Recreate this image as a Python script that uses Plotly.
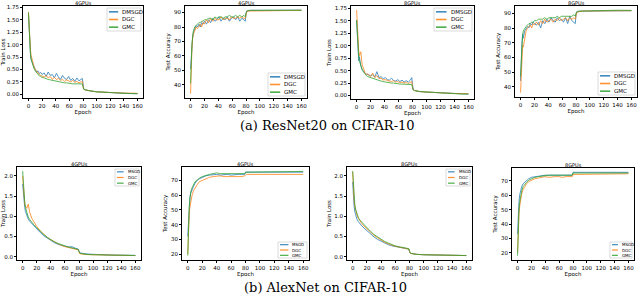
import plotly.graph_objects as go

# ---------------- data ----------------
E_a = [0,1,2,3,4,6,8,10,12,14,16,18,20,
       23,26,29,32,35,38,41,44,47,50,53,56,59,62,65,68,71,74,77,
       79,80,81,83,86,90,100,110,120,130,140,150,160]
E_b = [0,1,2,3,4,6,8,10,13,16,20,25,30,35,40,45,50,55,60,65,70,75,79,80,81,83,86,90,
       100,110,120,130,140,150,160]

names_a = ["DMSGD", "DGC", "GMC"]
names_b = ["MSGD", "DGC", "GMC"]

# ResNet20 train loss, 4 GPUs
a1_dmsgd = [1.62,1.25,0.95,0.80,0.70,0.62,0.55,0.50,0.45,0.47,0.42,0.44,0.40,
            0.43,0.36,0.45,0.38,0.40,0.33,0.42,0.35,0.30,0.38,0.32,0.30,0.36,0.28,0.32,0.26,0.33,0.27,0.30,
            0.32,0.22,0.12,0.09,0.08,0.07,0.05,0.04,0.03,0.025,0.02,0.015,0.012]
a1_dgc   = [1.66,1.30,1.05,0.88,0.78,0.66,0.56,0.50,0.46,0.42,0.40,0.38,0.37,
            0.35,0.38,0.33,0.36,0.30,0.34,0.30,0.32,0.28,0.30,0.26,0.29,0.27,0.25,0.28,0.24,0.26,0.23,0.25,
            0.26,0.18,0.11,0.09,0.08,0.07,0.05,0.04,0.035,0.03,0.025,0.02,0.02]
a1_gmc   = [1.65,1.20,0.95,0.80,0.70,0.60,0.52,0.47,0.43,0.40,0.37,0.36,0.34,
            0.33,0.31,0.30,0.29,0.28,0.27,0.26,0.26,0.25,0.24,0.23,0.23,0.22,0.22,0.21,0.21,0.21,0.20,0.20,
            0.21,0.15,0.10,0.09,0.08,0.07,0.05,0.04,0.03,0.025,0.02,0.015,0.012]

# ResNet20 test accuracy, 4 GPUs
a2_dmsgd = [51,60,68,73,76,79,81,80,82,80,83,82,84,
            82,85,83,86,84,85,87,84,86,85,87,84,86,87,85,87,84,86,85,
            84,89,91,91,91.5,91.5,91.5,91.5,91.3,91.5,91.5,91.6,91.6]
a2_dgc   = [34,55,65,72,75,77,80,79,81,82,80,83,82,
            85,83,86,84,86,85,85,87,85,86,86,85,87,86,86,87,86,87,86,
            86,89,90.5,91,91,91.5,91.4,91.5,91.2,91.4,91.5,91.5,91.5]
a2_gmc   = [41,58,68,73,77,80,81,82,83,83,84,84,85,
            85,86,86,85,87,86,87,87,86,87,87,88,87,87,88,87,88,87,88,
            87,89.5,91,91.5,91.5,91.5,91.6,91.6,91.4,91.6,91.6,91.7,91.6]

# ResNet20 train loss, 8 GPUs
a3_dmsgd = [1.52,1.15,0.95,0.70,0.78,0.60,0.52,0.48,0.45,0.43,0.42,0.40,0.40,
            0.42,0.37,0.48,0.36,0.38,0.34,0.36,0.32,0.31,0.35,0.30,0.29,0.32,0.28,0.31,0.27,0.30,0.27,0.31,
            0.36,0.22,0.12,0.10,0.09,0.08,0.07,0.06,0.05,0.045,0.04,0.035,0.03]
a3_dgc   = [1.72,1.40,1.05,0.90,0.80,0.88,0.62,0.52,0.46,0.42,0.44,0.40,0.38,
            0.45,0.36,0.40,0.34,0.35,0.31,0.32,0.30,0.29,0.28,0.30,0.27,0.28,0.26,0.27,0.25,0.27,0.24,0.26,
            0.28,0.18,0.12,0.10,0.09,0.08,0.07,0.06,0.05,0.045,0.04,0.04,0.035]
a3_gmc   = [1.52,1.20,0.95,0.80,0.70,0.60,0.52,0.47,0.43,0.40,0.38,0.37,0.35,
            0.34,0.33,0.31,0.30,0.29,0.28,0.27,0.27,0.26,0.25,0.25,0.24,0.24,0.23,0.23,0.23,0.22,0.22,0.22,
            0.22,0.16,0.11,0.10,0.09,0.08,0.07,0.06,0.05,0.04,0.035,0.03,0.03]

# ResNet20 test accuracy, 8 GPUs
a4_dmsgd = [44,62,70,76,73,78,80,81,80,83,82,84,83,
            82,84,80,85,83,86,84,87,85,84,87,85,86,84,87,83,88,85,84,
            83,89,91,91,91.5,91.5,91.6,91.8,91.8,92,92,92,91.8]
a4_dgc   = [36,52,62,68,67,73,78,80,81,82,80,83,82,
            84,82,85,83,86,84,85,86,84,86,85,87,85,86,87,85,87,86,87,
            86,89,90.5,91,91,91.5,91.6,91.7,91.6,91.8,91.9,92,91.8]
a4_gmc   = [47,60,70,75,78,80,81,82,83,83,84,84,85,
            85,86,86,86,87,86,87,87,87,87,88,87,88,88,88,88,88,88,89,
            88,90,91,91.5,91.5,91.8,91.8,91.9,91.8,92,92.1,92.1,92]

# AlexNet train loss, 4 GPUs
b1_msgd = [1.80,1.55,1.35,1.22,1.12,1.00,0.93,0.88,0.82,0.77,0.70,0.60,0.52,0.46,0.40,0.35,0.31,0.28,
           0.26,0.24,0.25,0.21,0.19,0.14,0.10,0.09,0.08,0.07,0.06,0.05,0.045,0.04,0.04,0.035,0.035]
b1_dgc  = [2.00,1.70,1.45,1.30,1.25,1.20,1.30,1.10,0.95,0.85,0.75,0.64,0.55,0.48,0.42,0.37,0.32,0.28,
           0.25,0.23,0.21,0.19,0.17,0.12,0.08,0.07,0.06,0.055,0.05,0.045,0.04,0.035,0.035,0.03,0.03]
b1_gmc  = [2.12,1.75,1.50,1.35,1.22,1.08,0.98,0.92,0.85,0.79,0.72,0.63,0.55,0.48,0.42,0.37,0.33,0.29,
           0.27,0.24,0.22,0.20,0.18,0.13,0.09,0.08,0.07,0.06,0.05,0.045,0.04,0.04,0.035,0.03,0.03]

# AlexNet test accuracy, 4 GPUs
b2_msgd = [32,45,53,58,61,64,66,68,70,71,72,73,73.5,74,74,73.5,74,74,73.5,74,74,74,74,
           75.5,75.5,75.5,75.5,75.5,75.5,75.5,75.5,75.5,75.5,75.5,75.5]
b2_dgc  = [20,40,48,52,55,60,63,65,67,69,70,71,72,72.5,73,73,72.5,72.5,72,72.5,72,72.5,73,
           74,74,74,74,74,74,74,74,74,74,74,74]
b2_gmc  = [19,42,52,58,62,65,67,69,70,71.5,72.5,73.5,74,74.5,75,74.5,74.5,74.5,74.5,74,74.5,74.5,74.5,
           75.5,75.5,76,76,76,76,76,76,76,76,76,76]

# AlexNet train loss, 8 GPUs
b3_msgd = [1.85,1.45,1.25,1.12,1.03,0.93,0.87,0.82,0.76,0.71,0.64,0.56,0.49,0.43,0.38,0.34,0.30,0.27,
           0.25,0.23,0.22,0.20,0.19,0.13,0.09,0.08,0.07,0.06,0.05,0.045,0.04,0.04,0.035,0.035,0.03]
b3_dgc  = [2.10,1.65,1.40,1.25,1.15,1.03,0.95,0.89,0.82,0.76,0.69,0.61,0.53,0.47,0.41,0.36,0.32,0.28,
           0.26,0.24,0.22,0.20,0.19,0.13,0.09,0.08,0.07,0.06,0.05,0.045,0.04,0.04,0.035,0.03,0.03]
b3_gmc  = [2.12,1.70,1.45,1.30,1.18,1.05,0.97,0.91,0.85,0.79,0.72,0.63,0.55,0.49,0.43,0.38,0.34,0.30,
           0.27,0.25,0.23,0.21,0.20,0.14,0.10,0.08,0.07,0.06,0.05,0.045,0.04,0.04,0.035,0.035,0.03]

# AlexNet test accuracy, 8 GPUs
b4_msgd = [33,48,55,60,63,66,68,69,70.5,71.5,72.5,73,73.5,74,74,74,74,74,74,74,74,74,74,
           76,76,76,76,76,76,76,76,76,76,76,76]
b4_dgc  = [20,38,46,52,56,61,64,66,68,69.5,70.5,71.5,72,72.5,73,72.5,73,73,73,72.5,73,73,73,
           74.5,74.5,74.5,75,75,75,75,75,75,75,75,75]
b4_gmc  = [18,40,49,55,59,63,66,67.5,69,70.5,71.5,72.5,73,73.5,74,74,74,74,73.5,74,74,74,74,
           75.5,75.5,75.5,75.5,75.5,75.5,75.5,75.5,75.5,75.5,75.5,75.5]

titles = ["4GPUs", "4GPUs", "8GPUs", "8GPUs", "4GPUs", "4GPUs", "8GPUs", "8GPUs"]
ylabels = ["Train Loss", "Test Accuracy", "Train Loss", "Test Accuracy",
           "Train Loss", "Test Accuracy", "Train Loss", "Test Accuracy"]
xticks = [0, 20, 40, 60, 80, 100, 120, 140, 160]
yticks_a_loss = [0.0, 0.25, 0.5, 0.75, 1.0, 1.25, 1.5, 1.75]
yticks_a_acc = [40, 50, 60, 70, 80, 90]
yticks_b_loss = [0.0, 0.5, 1.0, 1.5, 2.0]
yticks_b_acc = [20, 30, 40, 50, 60, 70]

# ---------------- layout ----------------
W, H = 640, 299
boxes = [  # (left, right, top, bottom) in px
    (23, 143, 6, 98), (185, 307, 6, 98), (351, 474, 6, 99), (515, 637, 6, 97),
    (17, 141, 167, 260), (182, 309, 167, 260), (347, 472, 167, 260), (512, 634, 168, 260),
]
legend_boxes = [  # (left, right, top, bottom) in px
    (107, 141, 8, 31), (268, 305, 73, 96), (434, 472, 8, 31), (598, 635, 72, 95),
    (115, 139, 169, 186), (278, 307, 242, 258), (446, 470, 169, 186), (610, 632, 242, 258),
]
series = [
    (E_a, [a1_dmsgd, a1_dgc, a1_gmc], names_a, yticks_a_loss, ".2f", [-0.075, 1.78]),
    (E_a, [a2_dmsgd, a2_dgc, a2_gmc], names_a, yticks_a_acc, "d", [31, 94.5]),
    (E_a, [a3_dmsgd, a3_dgc, a3_gmc], names_a, yticks_a_loss, ".2f", [-0.07, 1.80]),
    (E_a, [a4_dmsgd, a4_dgc, a4_gmc], names_a, yticks_a_acc, "d", [33, 95]),
    (E_b, [b1_msgd, b1_dgc, b1_gmc], names_b, yticks_b_loss, ".1f", [-0.08, 2.22]),
    (E_b, [b2_msgd, b2_dgc, b2_gmc], names_b, yticks_b_acc, "d", [16, 79]),
    (E_b, [b3_msgd, b3_dgc, b3_gmc], names_b, yticks_b_loss, ".1f", [-0.08, 2.22]),
    (E_b, [b4_msgd, b4_dgc, b4_gmc], names_b, yticks_b_acc, "d", [15, 79]),
]
colors = ["#1f77b4", "#ff7f0e", "#2ca02c"]
FONT = "DejaVu Sans"

def px(x):
    return x / W

def py(y):
    return 1 - y / H

fig = go.Figure()
layout = dict(width=W, height=H, margin=dict(l=0, r=0, t=0, b=0, autoexpand=False), showlegend=False,
              paper_bgcolor="white", plot_bgcolor="white", annotations=[], shapes=[])

for i, ((l, r, t, b), (ex, ys, nms, yt, fmt, yr)) in enumerate(zip(boxes, series)):
    k = i + 1
    sfx = "" if k == 1 else str(k)
    for j in range(3):
        fig.add_trace(go.Scatter(
            x=ex, y=ys[j], mode="lines", name=nms[j],
            line=dict(color=colors[j], width=0.9), opacity=0.85,
            xaxis=f"x{sfx}", yaxis=f"y{sfx}"))
    xd = [px(l), px(r)]
    yd = [py(b), py(t)]
    ax_common = dict(showline=True, linecolor="black", linewidth=1, mirror=True,
                     ticks="outside", ticklen=2, tickwidth=0.8, tickcolor="black",
                     showgrid=False, zeroline=False, automargin=False,
                     tickfont=dict(family=FONT, size=5.5, color="black"))
    layout[f"xaxis{sfx}"] = dict(ax_common, domain=xd, range=[-8, 168], tickvals=xticks,
                                 anchor=f"y{sfx}",
                                 title=dict(text="Epoch", font=dict(family=FONT, size=5.5, color="black"),
                                            standoff=1))
    layout[f"yaxis{sfx}"] = dict(ax_common, domain=yd, range=yr, tickvals=yt, tickformat=fmt,
                                 anchor=f"x{sfx}",
                                 title=dict(text=ylabels[i], font=dict(family=FONT, size=5.5, color="black"),
                                            standoff=2))
    layout["annotations"].append(dict(
        text=titles[i], x=(xd[0] + xd[1]) / 2, y=py(max(t - 3, 3)), xref="paper", yref="paper",
        xanchor="center", yanchor="middle", showarrow=False, borderpad=0,
        font=dict(family=FONT, size=5, color="black")))

    # hand-drawn legend (matplotlib style)
    ll, lr, lt, lb = legend_boxes[i]
    small = i >= 4
    layout["shapes"].append(dict(type="rect", xref="paper", yref="paper",
                                 x0=px(ll), x1=px(lr), y0=py(lb), y1=py(lt),
                                 fillcolor="rgba(255,255,255,0.85)",
                                 line=dict(color="#cccccc", width=0.7), layer="above"))
    hgt = lb - lt
    for j in range(3):
        yc = lt + hgt * (2 * j + 1) / 6
        x0 = ll + 2
        x1 = ll + (lr - ll) * (0.36 if small else 0.33)
        layout["shapes"].append(dict(type="line", xref="paper", yref="paper",
                                     x0=px(x0), x1=px(x1), y0=py(yc), y1=py(yc),
                                     line=dict(color=colors[j], width=1.6 if not small else 1.2),
                                     opacity=0.85, layer="above"))
        layout["annotations"].append(dict(
            text=nms[j], x=px(x1 + 2), y=py(yc), xref="paper", yref="paper",
            xanchor="left", yanchor="middle", showarrow=False,
            font=dict(family=FONT, size=4 if small else 5.5, color="black")))

layout["annotations"].append(dict(
    text="(a) ResNet20 on CIFAR-10", x=px(327), y=py(126), xref="paper", yref="paper",
    xanchor="center", yanchor="middle", showarrow=False,
    font=dict(family="DejaVu Serif", size=13, color="black")))
layout["annotations"].append(dict(
    text="(b) AlexNet on CIFAR-10", x=px(325), y=py(287), xref="paper", yref="paper",
    xanchor="center", yanchor="middle", showarrow=False,
    font=dict(family="DejaVu Serif", size=13, color="black")))

fig.update_layout(**layout)
fig.write_html("out.html", config={"displayModeBar": False},
               post_script="document.body.style.margin='0';")
